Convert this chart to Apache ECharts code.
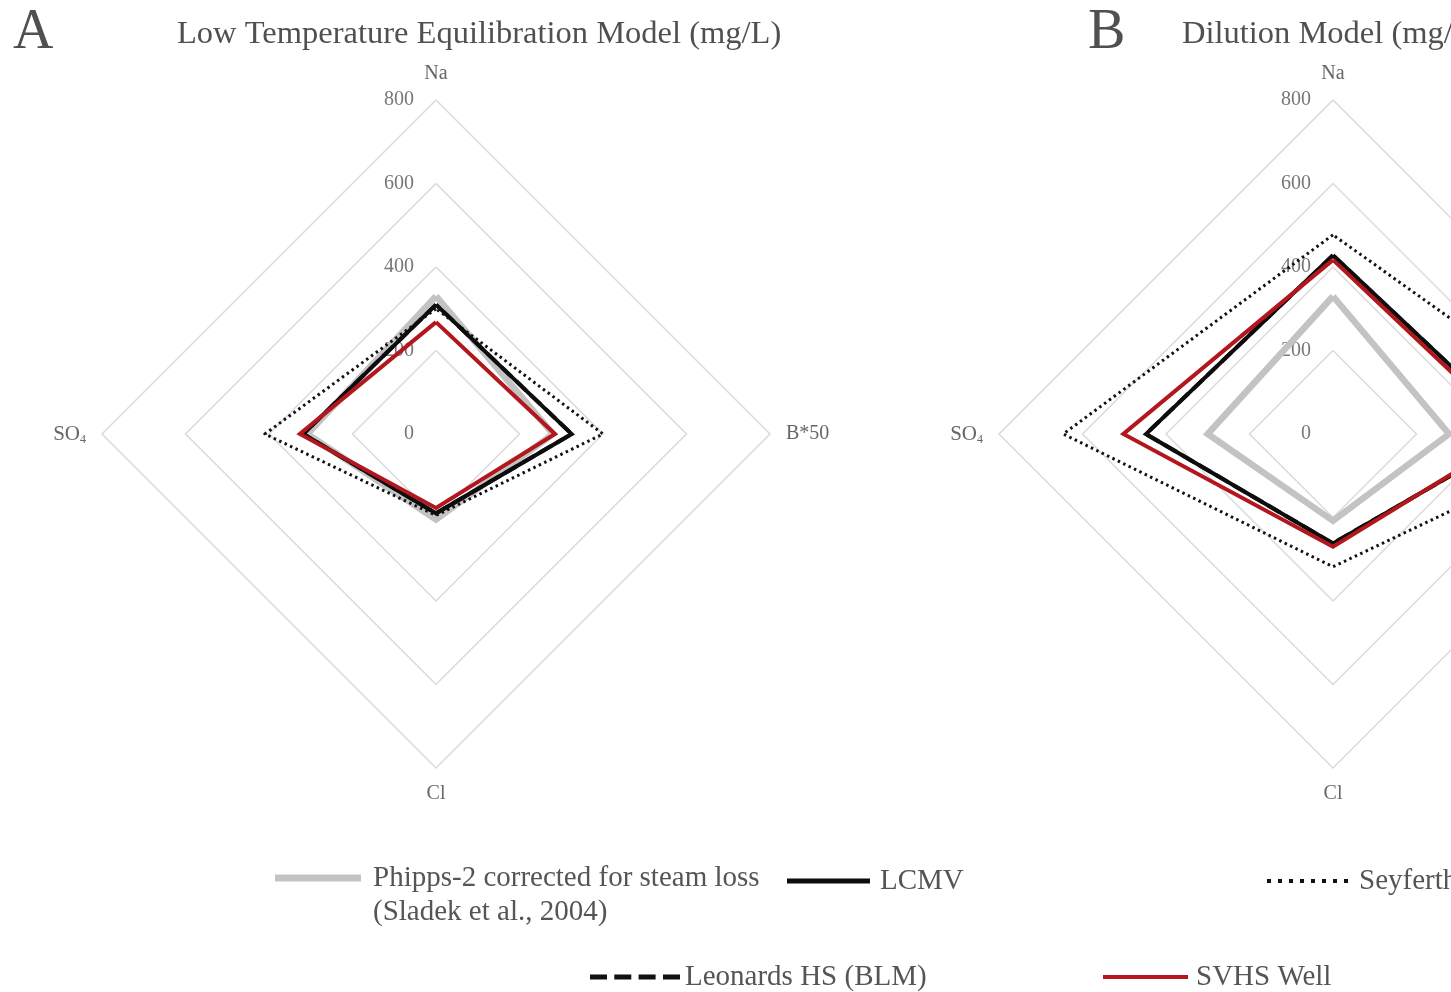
<!DOCTYPE html>
<html>
<head>
<meta charset="utf-8">
<script src="https://cdn.jsdelivr.net/npm/echarts@6/dist/echarts.min.js"></script>
<style>
  html, body { margin: 0; padding: 0; background: #ffffff; }
  #chart { width: 1451px; height: 992px; }
</style>
</head>
<body>
<div id="chart"></div>
<script>
// Axes of both radar panels (counter-clockwise from the top)
const indicatorNames = ['Na', 'SO4', 'Cl', 'B*50'];
const ringValues = [0, 200, 400, 600, 800];

// Series names shown in the legend
const seriesNames = [
  'Phipps-2 corrected for steam loss',
  'Seyferth',
  'Leonards HS (BLM)',
  'LCMV',
  'SVHS Well'
];
const phippsNote = '(Sladek et al., 2004)';

// Panel A: low temperature equilibration model (mg/L), order Na, SO4, Cl, B*50
const phippsA   = [330, 308, 205, 280];
const seyferthA = [300, 410, 195, 400];
const leonardsA = [310, 318, 190, 325];
const lcmvA     = [310, 318, 190, 325];
const svhsA     = [268, 326, 177, 285];

// Panel B: dilution model (mg/L)
const phippsB   = [330, 300, 208, 278];
const seyferthB = [477, 646, 318, 670];
const leonardsB = [428, 448, 262, 455];
const lcmvB     = [428, 448, 262, 455];
const svhsB     = [417, 502, 270, 440];

const serif = 'Liberation Serif, Times New Roman, serif';

const lineStyles = [
  { color: '#c3c3c3', width: 6.5, type: 'solid', join: 'miter' },
  { color: '#111111', width: 3, type: [2.5, 3.5] },
  { color: '#111111', width: 4, type: [14, 6] },
  { color: '#0d0d0d', width: 4, type: 'solid', join: 'miter' },
  { color: '#b3161c', width: 4, type: 'solid', join: 'miter' }
];

function panelData(values) {
  return values.map(function (v, i) {
    return {
      name: seriesNames[i],
      value: v,
      symbol: 'none',
      lineStyle: lineStyles[i],
      itemStyle: { color: lineStyles[i].color }
    };
  });
}

function radarAt(cx) {
  return {
    center: [cx, 434],
    radius: 334,
    startAngle: 90,
    shape: 'polygon',
    splitNumber: ringValues.length - 1,
    indicator: indicatorNames.map(function (n, i) {
      const ind = { name: n, min: ringValues[0], max: ringValues[ringValues.length - 1] };
      if (i === 0) ind.axisLabel = { show: true };
      return ind;
    }),
    nameGap: 16,
    axisName: {
      color: '#666666',
      fontFamily: serif,
      fontSize: 20,
      formatter: function (name) {
        return name === 'SO4' ? '{n|SO}{s|4}' : name;
      },
      rich: {
        n: { fontFamily: serif, fontSize: 21, color: '#666666', lineHeight: 21, verticalAlign: 'top' },
        s: { fontFamily: serif, fontSize: 12, color: '#666666', lineHeight: 12, padding: [10, 0, 0, 0], verticalAlign: 'top' }
      }
    },
    axisLine: { show: false },
    axisTick: { show: false },
    axisLabel: {
      show: false,
      color: '#777777',
      fontFamily: serif,
      fontSize: 20,
      margin: 22,
      showMinLabel: true,
      showMaxLabel: true
    },
    splitLine: { lineStyle: { color: '#dadada', width: 1.5 } },
    splitArea: { show: false }
  };
}

function legendItem(name, left, top, icon, w, h, textPad) {
  return {
    left: left,
    top: top,
    padding: 0,
    orient: 'horizontal',
    selectedMode: false,
    itemWidth: w,
    itemHeight: h,
    itemStyle: { borderWidth: 0 },
    data: [{ name: name, icon: icon }],
    textStyle: {
      fontFamily: serif,
      fontSize: 29,
      color: '#555555',
      lineHeight: 34,
      padding: textPad
    }
  };
}

const dashIcon = 'path://M0,0h17v5h-17z M24.3,0h17v5h-17z M48.6,0h17v5h-17z M73,0h17v5h-17z';
const dotIcon = 'path://M0,0h4v4h-4z M11,0h4v4h-4z M22,0h4v4h-4z M33,0h4v4h-4z M44,0h4v4h-4z M55,0h4v4h-4z M66,0h4v4h-4z M77,0h4v4h-4z';

const chart = echarts.init(document.getElementById('chart'), null, { renderer: 'canvas' });

// The Phipps-2 entry carries its citation on a second line; the empty
// leading line keeps the swatch level with the first line of text.
const phippsLegend = legendItem(seriesNames[0], 275, 827, 'rect', 86, 7, [0, 0, 0, 7]);
phippsLegend.formatter = function (name) { return '\n' + name + '\n' + phippsNote; };

chart.setOption({
  backgroundColor: '#ffffff',
  animation: false,
  title: [
    { text: 'A', left: 13, top: 5, padding: 0, textStyle: { fontFamily: serif, fontSize: 56, fontWeight: 'normal', color: '#505050' } },
    { text: 'Low Temperature Equilibration Model (mg/L)', left: 177, top: 18, padding: 0, textStyle: { fontFamily: serif, fontSize: 32.5, fontWeight: 'normal', color: '#505050' } },
    { text: 'B', left: 1088, top: 5, padding: 0, textStyle: { fontFamily: serif, fontSize: 56, fontWeight: 'normal', color: '#505050' } },
    { text: 'Dilution Model (mg/L)', left: 1182, top: 18, padding: 0, textStyle: { fontFamily: serif, fontSize: 32.5, fontWeight: 'normal', color: '#505050' } }
  ],
  legend: [
    phippsLegend,
    legendItem(seriesNames[3], 787, 864, 'rect', 83, 5, [0, 0, 0, 5]),
    legendItem(seriesNames[1], 1267, 864, dotIcon, 81, 4, [0, 0, 0, 6]),
    legendItem(seriesNames[2], 590, 960, dashIcon, 90, 5, [0, 0, 0, 0]),
    legendItem(seriesNames[4], 1103, 960, 'rect', 85, 4, [0, 0, 0, 3])
  ],
  radar: [radarAt(436), radarAt(1333)],
  series: [
    {
      type: 'radar',
      radarIndex: 0,
      silent: true,
      symbol: 'none',
      data: panelData([phippsA, seyferthA, leonardsA, lcmvA, svhsA])
    },
    {
      type: 'radar',
      radarIndex: 1,
      silent: true,
      symbol: 'none',
      data: panelData([phippsB, seyferthB, leonardsB, lcmvB, svhsB])
    }
  ]
});
</script>
</body>
</html>
